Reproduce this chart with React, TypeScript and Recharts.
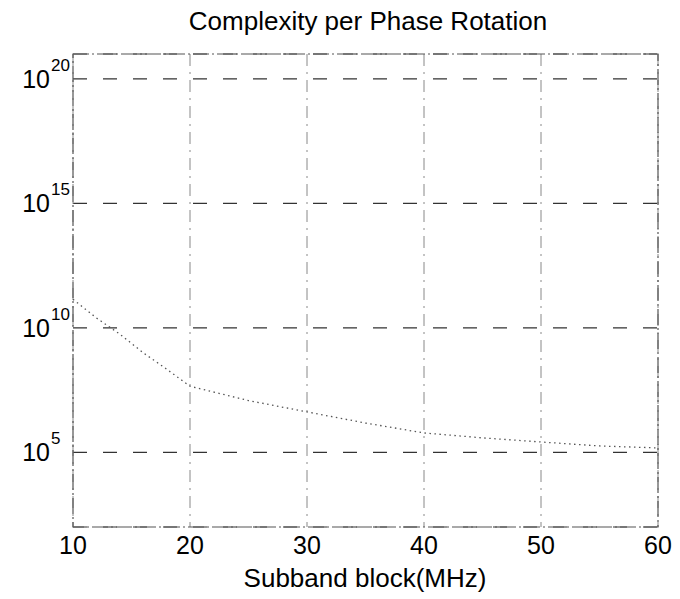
import React from "react";
import {
  LineChart,
  Line,
  XAxis,
  YAxis,
  CartesianGrid,
  ReferenceArea,
} from "recharts";

// subband block size in MHz
const blockSizes = [10, 12, 14, 16, 18, 20, 25, 30, 35, 40, 45, 50, 55, 60];
// complexity per phase rotation
const complexity = [
  1.4e11, 2.5e10, 5.6e9, 1.0e9, 2.2e8, 4.5e7, 1.2e7, 4.2e6, 1.5e6, 6.0e5,
  3.8e5, 2.6e5, 1.8e5, 1.5e5,
];
const xTicks = [10, 20, 30, 40, 50, 60];
const yTicks = [1e5, 1e10, 1e15, 1e20];

const data = blockSizes.map((mhz, i) => ({ mhz, value: complexity[i] }));

const FONT = "'Liberation Sans', Arial, Helvetica, sans-serif";

const PowerTick = ({ x, y, payload }: any) => {
  const exp = Math.round(Math.log10(payload.value));
  return (
    <g>
      <text x={50} y={y + 9} textAnchor="end" fontSize={25} fontFamily={FONT} fill="#000">
        10
      </text>
      <text x={51} y={y - 8} textAnchor="start" fontSize={17} fontFamily={FONT} fill="#000">
        {exp}
      </text>
    </g>
  );
};

const XTick = ({ x, y, payload }: any) => (
  <text x={x} y={y + 19} textAnchor="middle" fontSize={25} fontFamily={FONT} fill="#000">
    {payload.value}
  </text>
);

export default function App() {
  return (
    <div style={{ position: "absolute", left: 0, top: 0, width: 680, height: 599, background: "#fff" }}>
      <div
        style={{
          position: "absolute",
          left: 0,
          top: 6,
          width: 736,
          textAlign: "center",
          fontFamily: FONT,
          fontSize: 26,
          lineHeight: "30px",
          color: "#000",
        }}
      >
        Complexity per Phase Rotation
      </div>
      <div
        style={{
          position: "absolute",
          left: 0,
          top: 563,
          width: 730,
          textAlign: "center",
          fontFamily: FONT,
          fontSize: 26,
          lineHeight: "30px",
          color: "#000",
        }}
      >
        Subband block(MHz)
      </div>
      <LineChart
        width={680}
        height={599}
        data={data}
        margin={{ top: 54, right: 22, bottom: 0, left: 0 }}
      >
        <CartesianGrid
          vertical={false}
          stroke="#333"
          strokeDasharray="14 16"
          strokeWidth={1.2}
        />
        <CartesianGrid
          horizontal={false}
          stroke="#888"
          strokeDasharray="12 6 2 6"
          strokeWidth={1}
        />
        <XAxis
          dataKey="mhz"
          type="number"
          domain={[10, 60]}
          ticks={xTicks}
          height={72}
          axisLine={false}
          tickLine={false}
          tick={<XTick />}
          interval={0}
        />
        <YAxis
          type="number"
          scale="log"
          domain={[1e2, 1e21]}
          ticks={yTicks}
          width={73}
          axisLine={false}
          tickLine={false}
          tick={<PowerTick />}
          allowDataOverflow
          interval={0}
        />
        <ReferenceArea
          x1={10}
          x2={60}
          y1={1e2}
          y2={1e21}
          fill="none"
          stroke="#555"
          strokeDasharray="16 3 2 3"
          strokeWidth={1.2}
          ifOverflow="extendDomain"
        />
        <Line
          type="linear"
          dataKey="value"
          stroke="#555"
          strokeWidth={1.3}
          strokeDasharray="1.5 3.5"
          dot={false}
          isAnimationActive={false}
        />
      </LineChart>
    </div>
  );
}
